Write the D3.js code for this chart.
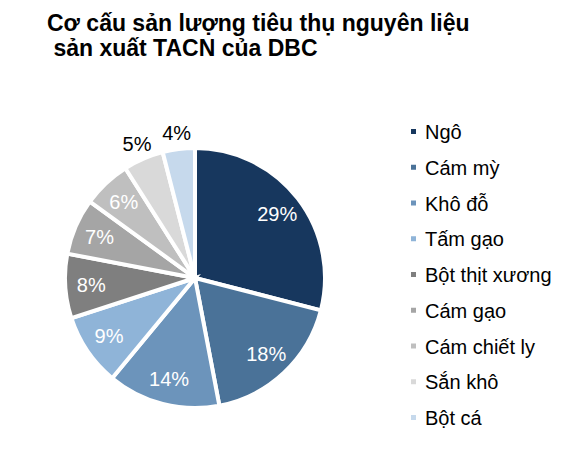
<!DOCTYPE html>
<html><head><meta charset="utf-8">
<script src="https://cdn.jsdelivr.net/npm/d3@7"></script>
<style>body{margin:0;background:#fff}svg{display:block}</style>
</head><body>
<svg id="c" width="568" height="465"></svg>
<script>
const categories = ["Ngô","Cám mỳ","Khô đỗ","Tấm gạo","Bột thịt xương","Cám gạo","Cám chiết ly","Sắn khô","Bột cá"];
const values = [29,18,14,9,8,7,6,5,4];
const colors = ["#17375e","#4a7298","#6c94bb","#8fb4d8","#7f7f7f","#a5a5a5","#bfbfbf","#d9d9d9","#c6d9ec"];
const titleLines = ["Cơ cấu sản lượng tiêu thụ nguyên liệu"," sản xuất TACN của DBC"];

const svg = d3.select("#c");
const font = "'Liberation Sans', Arial, sans-serif";

svg.selectAll("text.title").data(titleLines).enter().append("text")
  .attr("class","title")
  .attr("x",47).attr("y",(d,i)=>31+i*25)
  .attr("font-family",font).attr("font-weight","bold").attr("font-size",23)
  .attr("fill","#000").attr("xml:space","preserve").style("white-space","pre")
  .text(d=>d);

const cx = 195, cy = 278, R = 130;
const data = categories.map((c,i)=>({cat:c, v:values[i], col:colors[i]}));
const pie = d3.pie().value(d=>d.v).sort(null);
const arcs = pie(data);
const arc = d3.arc().innerRadius(0).outerRadius(R);
const g = svg.append("g").attr("transform",`translate(${cx},${cy})`);
g.selectAll("path").data(arcs).enter().append("path")
  .attr("d",arc).attr("fill",d=>d.data.col)
  .attr("stroke","#fff").attr("stroke-width",4).attr("stroke-linejoin","miter");

const inArc = d3.arc().innerRadius(R*0.8).outerRadius(R*0.8);
const outArc = d3.arc().innerRadius(146).outerRadius(146);
g.selectAll("text.lbl").data(arcs).enter().append("text")
  .attr("class","lbl")
  .attr("transform",d=>{
    const p = (d.data.v<=5 ? outArc : inArc).centroid(d);
    return `translate(${p[0]},${p[1]})`;
  })
  .attr("text-anchor","middle").attr("dy","0.35em")
  .attr("font-family",font).attr("font-size",20)
  .attr("fill",d=>d.data.v<=5?"#000":"#fff")
  .text(d=>d.data.v+"%");

const lg = svg.append("g");
const y = d3.scalePoint().domain(categories).range([132,418]);
const items = lg.selectAll("g").data(data).enter().append("g")
  .attr("transform",d=>`translate(0,${y(d.cat)})`);
items.append("rect").attr("x",411).attr("y",-3).attr("width",5).attr("height",5).attr("fill",d=>d.col);
items.append("text").attr("x",425).attr("y",0).attr("dy","0.35em")
  .attr("font-family",font).attr("font-size",20).attr("fill","#000").text(d=>d.cat);
</script>
</body></html>
